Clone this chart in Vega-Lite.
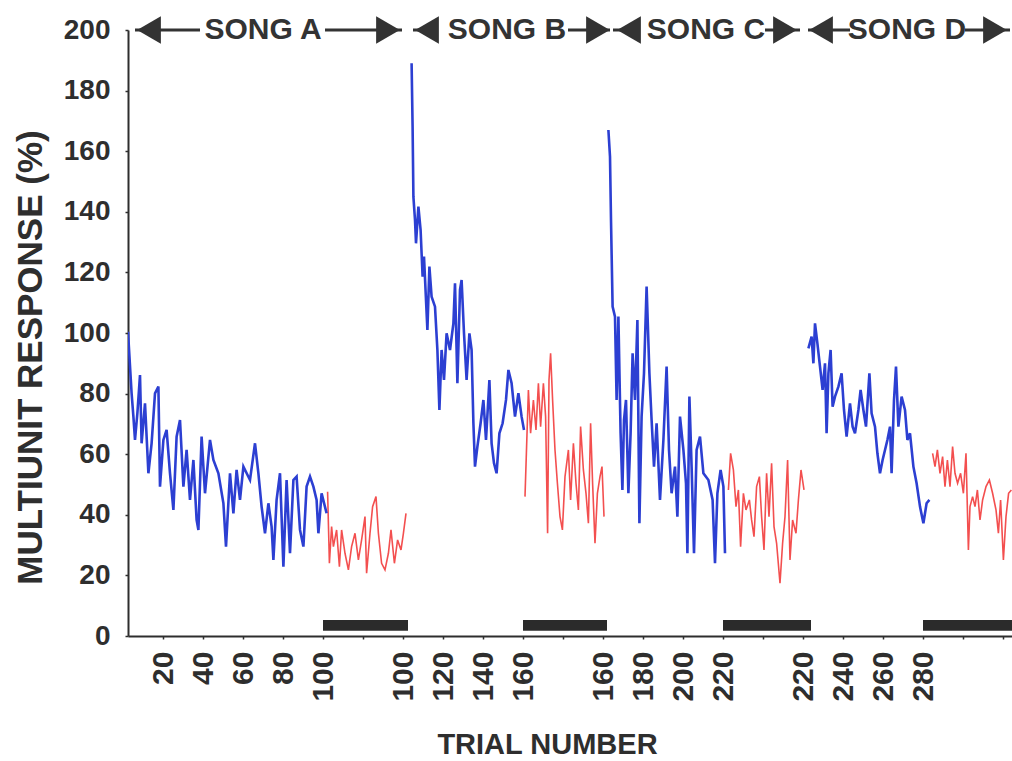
{
  "$schema": "https://vega.github.io/schema/vega-lite/v6.json",
  "width": 884,
  "height": 606,
  "autosize": {"type": "none"},
  "padding": {"left": 128, "top": 30, "right": 0, "bottom": 125},
  "background": "white",
  "config": {"view": {"stroke": null}, "font": "Liberation Sans"},
  "datasets": {
    "pts": [
      {"s":"A","c":"b","x":2.5,"y":100.4},{"s":"A","c":"b","x":4.3,"y":80.1},{"s":"A","c":"b","x":5.2,"y":72.4},{"s":"A","c":"b","x":6,"y":64.7},{"s":"A","c":"b","x":7.2,"y":73.6},{"s":"A","c":"b","x":8.5,"y":86.1},{"s":"A","c":"b","x":9.3,"y":63.6},{"s":"A","c":"b","x":11,"y":76.8},{"s":"A","c":"b","x":12.7,"y":53.7},{"s":"A","c":"b","x":14.3,"y":63.6},{"s":"A","c":"b","x":16,"y":80.1},{"s":"A","c":"b","x":17.7,"y":82.3},{"s":"A","c":"b","x":18.5,"y":49.3},{"s":"A","c":"b","x":20.2,"y":64.7},{"s":"A","c":"b","x":21.8,"y":68},{"s":"A","c":"b","x":23.5,"y":53.7},{"s":"A","c":"b","x":25.2,"y":41.6},{"s":"A","c":"b","x":26.8,"y":65.8},{"s":"A","c":"b","x":28.5,"y":71.3},{"s":"A","c":"b","x":30.2,"y":49.3},{"s":"A","c":"b","x":31.8,"y":61.4},{"s":"A","c":"b","x":33.5,"y":44.9},{"s":"A","c":"b","x":35.2,"y":58.1},{"s":"A","c":"b","x":36.8,"y":38.3},{"s":"A","c":"b","x":37.7,"y":35},{"s":"A","c":"b","x":39.3,"y":65.8},{"s":"A","c":"b","x":41,"y":47.1},{"s":"A","c":"b","x":43.5,"y":64.7},{"s":"A","c":"b","x":45.2,"y":58.1},{"s":"A","c":"b","x":47.7,"y":53.7},{"s":"A","c":"b","x":50.2,"y":43.8},{"s":"A","c":"b","x":51.5,"y":29.5},{"s":"A","c":"b","x":53.5,"y":53.7},{"s":"A","c":"b","x":55.2,"y":40.5},{"s":"A","c":"b","x":56.8,"y":54.8},{"s":"A","c":"b","x":58.5,"y":44.9},{"s":"A","c":"b","x":60.2,"y":55.9},{"s":"A","c":"b","x":63.5,"y":51.5},{"s":"A","c":"b","x":66,"y":63.6},{"s":"A","c":"b","x":67.7,"y":53.7},{"s":"A","c":"b","x":69.3,"y":42.7},{"s":"A","c":"b","x":71,"y":33.9},{"s":"A","c":"b","x":72.7,"y":43.8},{"s":"A","c":"b","x":74.3,"y":36.1},{"s":"A","c":"b","x":75.2,"y":25.1},{"s":"A","c":"b","x":76.8,"y":44.9},{"s":"A","c":"b","x":78.5,"y":53.7},{"s":"A","c":"b","x":80.2,"y":22.9},{"s":"A","c":"b","x":81.8,"y":51.5},{"s":"A","c":"b","x":83.5,"y":27.3},{"s":"A","c":"b","x":85.2,"y":51.5},{"s":"A","c":"b","x":86.8,"y":52.6},{"s":"A","c":"b","x":88.5,"y":35},{"s":"A","c":"b","x":90.2,"y":29.5},{"s":"A","c":"b","x":91.8,"y":49.3},{"s":"A","c":"b","x":93.5,"y":52.6},{"s":"A","c":"b","x":95.2,"y":49.3},{"s":"A","c":"b","x":96.8,"y":44.9},{"s":"A","c":"b","x":97.7,"y":33.9},{"s":"A","c":"b","x":99.3,"y":47.1},{"s":"A","c":"b","x":101.8,"y":40.5},
      {"s":"Ar","c":"r","x":102.3,"y":47.6},{"s":"Ar","c":"r","x":103.2,"y":24},{"s":"Ar","c":"r","x":104.3,"y":36.1},{"s":"Ar","c":"r","x":105.2,"y":29.5},{"s":"Ar","c":"r","x":106.8,"y":35},{"s":"Ar","c":"r","x":108.2,"y":22.9},{"s":"Ar","c":"r","x":109.3,"y":35},{"s":"Ar","c":"r","x":111,"y":27.3},{"s":"Ar","c":"r","x":112.7,"y":21.8},{"s":"Ar","c":"r","x":114.3,"y":29.5},{"s":"Ar","c":"r","x":116,"y":33.9},{"s":"Ar","c":"r","x":117.7,"y":25.1},{"s":"Ar","c":"r","x":119.3,"y":31.7},{"s":"Ar","c":"r","x":121,"y":39.4},{"s":"Ar","c":"r","x":121.8,"y":20.7},{"s":"Ar","c":"r","x":123.5,"y":33.9},{"s":"Ar","c":"r","x":124.8,"y":42.7},{"s":"Ar","c":"r","x":126.5,"y":46},{"s":"Ar","c":"r","x":127.7,"y":33.9},{"s":"Ar","c":"r","x":129.3,"y":24},{"s":"Ar","c":"r","x":131,"y":21.8},{"s":"Ar","c":"r","x":132.7,"y":27.3},{"s":"Ar","c":"r","x":134,"y":35},{"s":"Ar","c":"r","x":135.7,"y":24},{"s":"Ar","c":"r","x":137.3,"y":31.7},{"s":"Ar","c":"r","x":139,"y":28.4},{"s":"Ar","c":"r","x":140.2,"y":33.9},{"s":"Ar","c":"r","x":141.5,"y":40.5},
      {"s":"B","c":"b","x":144.3,"y":189},{"s":"B","c":"b","x":144.8,"y":168},{"s":"B","c":"b","x":145.2,"y":145},{"s":"B","c":"b","x":146,"y":137.3},{"s":"B","c":"b","x":146.5,"y":129.6},{"s":"B","c":"b","x":147.7,"y":141.7},{"s":"B","c":"b","x":148.8,"y":134},{"s":"B","c":"b","x":149.8,"y":118.6},{"s":"B","c":"b","x":150.5,"y":125.2},{"s":"B","c":"b","x":151.5,"y":110.9},{"s":"B","c":"b","x":152.2,"y":101},{"s":"B","c":"b","x":153.2,"y":121.9},{"s":"B","c":"b","x":154.3,"y":112},{"s":"B","c":"b","x":156,"y":108.7},{"s":"B","c":"b","x":157.2,"y":94.4},{"s":"B","c":"b","x":158.2,"y":74.6},{"s":"B","c":"b","x":159.3,"y":94.4},{"s":"B","c":"b","x":160.5,"y":84.5},{"s":"B","c":"b","x":161.8,"y":99.9},{"s":"B","c":"b","x":163.5,"y":94.4},{"s":"B","c":"b","x":165.2,"y":103.2},{"s":"B","c":"b","x":166,"y":116.4},{"s":"B","c":"b","x":167.2,"y":83.4},{"s":"B","c":"b","x":168.5,"y":114.2},{"s":"B","c":"b","x":169.3,"y":117.5},{"s":"B","c":"b","x":170.5,"y":99.9},{"s":"B","c":"b","x":171.8,"y":84.5},{"s":"B","c":"b","x":173.2,"y":99.9},{"s":"B","c":"b","x":174.3,"y":94.4},{"s":"B","c":"b","x":175.2,"y":70.2},{"s":"B","c":"b","x":176,"y":55.9},{"s":"B","c":"b","x":177.2,"y":62.5},{"s":"B","c":"b","x":178.8,"y":70.2},{"s":"B","c":"b","x":180.2,"y":77.9},{"s":"B","c":"b","x":181.5,"y":64.7},{"s":"B","c":"b","x":183.2,"y":84.5},{"s":"B","c":"b","x":184.3,"y":63.6},{"s":"B","c":"b","x":185.5,"y":57},{"s":"B","c":"b","x":186.8,"y":53.7},{"s":"B","c":"b","x":188.2,"y":66.9},{"s":"B","c":"b","x":189.8,"y":70.2},{"s":"B","c":"b","x":191.5,"y":77.9},{"s":"B","c":"b","x":192.7,"y":87.8},{"s":"B","c":"b","x":194.3,"y":83.4},{"s":"B","c":"b","x":196,"y":72.4},{"s":"B","c":"b","x":197.7,"y":80.1},{"s":"B","c":"b","x":199.3,"y":72.4},{"s":"B","c":"b","x":200.5,"y":68},
      {"s":"Br","c":"r","x":201,"y":46},{"s":"Br","c":"r","x":202.7,"y":81.2},{"s":"Br","c":"r","x":203.8,"y":66.9},{"s":"Br","c":"r","x":205.2,"y":77.9},{"s":"Br","c":"r","x":206.5,"y":68},{"s":"Br","c":"r","x":207.7,"y":83.4},{"s":"Br","c":"r","x":208.8,"y":69.1},{"s":"Br","c":"r","x":210.2,"y":83.4},{"s":"Br","c":"r","x":211.3,"y":72.4},{"s":"Br","c":"r","x":212.3,"y":33.9},{"s":"Br","c":"r","x":213,"y":84.5},{"s":"Br","c":"r","x":213.8,"y":93.3},{"s":"Br","c":"r","x":214.8,"y":77.9},{"s":"Br","c":"r","x":216,"y":61.4},{"s":"Br","c":"r","x":217.2,"y":50.4},{"s":"Br","c":"r","x":218.5,"y":39.4},{"s":"Br","c":"r","x":219.7,"y":35},{"s":"Br","c":"r","x":221,"y":52.6},{"s":"Br","c":"r","x":222.7,"y":61.4},{"s":"Br","c":"r","x":223.8,"y":44.9},{"s":"Br","c":"r","x":225.2,"y":63.6},{"s":"Br","c":"r","x":226.5,"y":50.4},{"s":"Br","c":"r","x":227.7,"y":41.6},{"s":"Br","c":"r","x":228.8,"y":69.1},{"s":"Br","c":"r","x":230.2,"y":54.8},{"s":"Br","c":"r","x":231.5,"y":47.1},{"s":"Br","c":"r","x":232.7,"y":37.2},{"s":"Br","c":"r","x":233.8,"y":70.2},{"s":"Br","c":"r","x":234.8,"y":50.4},{"s":"Br","c":"r","x":236,"y":30.6},{"s":"Br","c":"r","x":237.2,"y":47.1},{"s":"Br","c":"r","x":238.5,"y":52.6},{"s":"Br","c":"r","x":239.5,"y":55.9},{"s":"Br","c":"r","x":240.5,"y":39.4},
      {"s":"C","c":"b","x":242.7,"y":167},{"s":"C","c":"b","x":243.5,"y":158.2},{"s":"C","c":"b","x":244,"y":137.3},{"s":"C","c":"b","x":244.8,"y":108.7},{"s":"C","c":"b","x":246,"y":105.4},{"s":"C","c":"b","x":246.8,"y":77.9},{"s":"C","c":"b","x":247.7,"y":105.4},{"s":"C","c":"b","x":248.8,"y":66.9},{"s":"C","c":"b","x":249.7,"y":48.2},{"s":"C","c":"b","x":250.5,"y":71.3},{"s":"C","c":"b","x":251.5,"y":77.9},{"s":"C","c":"b","x":252.7,"y":47.1},{"s":"C","c":"b","x":253.8,"y":66.9},{"s":"C","c":"b","x":254.8,"y":93.3},{"s":"C","c":"b","x":256,"y":77.9},{"s":"C","c":"b","x":257.2,"y":104.3},{"s":"C","c":"b","x":258.2,"y":37.2},{"s":"C","c":"b","x":259.3,"y":72.4},{"s":"C","c":"b","x":260.5,"y":86.7},{"s":"C","c":"b","x":261.8,"y":115.3},{"s":"C","c":"b","x":263.2,"y":86.7},{"s":"C","c":"b","x":264.3,"y":71.3},{"s":"C","c":"b","x":265.5,"y":55.9},{"s":"C","c":"b","x":266.8,"y":70.2},{"s":"C","c":"b","x":268.5,"y":44.9},{"s":"C","c":"b","x":270.2,"y":64.7},{"s":"C","c":"b","x":271.8,"y":88.9},{"s":"C","c":"b","x":273,"y":61.4},{"s":"C","c":"b","x":274.3,"y":47.1},{"s":"C","c":"b","x":276,"y":55.9},{"s":"C","c":"b","x":277.2,"y":39.4},{"s":"C","c":"b","x":278.5,"y":72.4},{"s":"C","c":"b","x":280.2,"y":61.4},{"s":"C","c":"b","x":281.5,"y":50.4},{"s":"C","c":"b","x":282.2,"y":27.3},{"s":"C","c":"b","x":283.2,"y":79},{"s":"C","c":"b","x":284.3,"y":55.9},{"s":"C","c":"b","x":285.5,"y":27.3},{"s":"C","c":"b","x":286.8,"y":61.4},{"s":"C","c":"b","x":288.5,"y":65.8},{"s":"C","c":"b","x":290.2,"y":53.7},{"s":"C","c":"b","x":292.7,"y":51.5},{"s":"C","c":"b","x":294.8,"y":44.9},{"s":"C","c":"b","x":296,"y":24},{"s":"C","c":"b","x":297.2,"y":47.1},{"s":"C","c":"b","x":298.8,"y":54.8},{"s":"C","c":"b","x":300.2,"y":49.3},{"s":"C","c":"b","x":301,"y":27.3},
      {"s":"Cr","c":"r","x":302.7,"y":48.2},{"s":"Cr","c":"r","x":303.8,"y":60.3},{"s":"Cr","c":"r","x":305.2,"y":54.8},{"s":"Cr","c":"r","x":306.5,"y":42.7},{"s":"Cr","c":"r","x":307.7,"y":48.2},{"s":"Cr","c":"r","x":308.8,"y":29.5},{"s":"Cr","c":"r","x":310.2,"y":47.1},{"s":"Cr","c":"r","x":311.5,"y":41.6},{"s":"Cr","c":"r","x":313.2,"y":44.9},{"s":"Cr","c":"r","x":314.3,"y":38.3},{"s":"Cr","c":"r","x":315.5,"y":32.8},{"s":"Cr","c":"r","x":316.8,"y":49.3},{"s":"Cr","c":"r","x":318.2,"y":52.6},{"s":"Cr","c":"r","x":319.3,"y":39.4},{"s":"Cr","c":"r","x":320.5,"y":28.4},{"s":"Cr","c":"r","x":321.8,"y":53.7},{"s":"Cr","c":"r","x":323,"y":39.4},{"s":"Cr","c":"r","x":324.3,"y":57},{"s":"Cr","c":"r","x":325.5,"y":36.1},{"s":"Cr","c":"r","x":326.8,"y":30.6},{"s":"Cr","c":"r","x":328.5,"y":17.4},{"s":"Cr","c":"r","x":329.8,"y":30.6},{"s":"Cr","c":"r","x":331,"y":39.4},{"s":"Cr","c":"r","x":332.3,"y":58.1},{"s":"Cr","c":"r","x":333.5,"y":25.1},{"s":"Cr","c":"r","x":334.8,"y":38.3},{"s":"Cr","c":"r","x":336.5,"y":33.9},{"s":"Cr","c":"r","x":337.7,"y":44.9},{"s":"Cr","c":"r","x":339,"y":54.8},{"s":"Cr","c":"r","x":340.5,"y":48.2},
      {"s":"D","c":"b","x":342.7,"y":94.9},{"s":"D","c":"b","x":344.3,"y":98.8},{"s":"D","c":"b","x":345.2,"y":90},{"s":"D","c":"b","x":346,"y":103.2},{"s":"D","c":"b","x":347.2,"y":96.6},{"s":"D","c":"b","x":348.5,"y":88.9},{"s":"D","c":"b","x":349.8,"y":81.2},{"s":"D","c":"b","x":351,"y":90},{"s":"D","c":"b","x":351.8,"y":66.9},{"s":"D","c":"b","x":352.7,"y":86.7},{"s":"D","c":"b","x":353.8,"y":94.4},{"s":"D","c":"b","x":354.8,"y":75.7},{"s":"D","c":"b","x":356,"y":79},{"s":"D","c":"b","x":357.7,"y":82.3},{"s":"D","c":"b","x":359.3,"y":86.7},{"s":"D","c":"b","x":360.5,"y":74.6},{"s":"D","c":"b","x":361.8,"y":65.8},{"s":"D","c":"b","x":363.5,"y":76.8},{"s":"D","c":"b","x":364.8,"y":69.1},{"s":"D","c":"b","x":366,"y":66.9},{"s":"D","c":"b","x":367.7,"y":74.6},{"s":"D","c":"b","x":368.8,"y":81.2},{"s":"D","c":"b","x":370.2,"y":74.6},{"s":"D","c":"b","x":371.5,"y":69.1},{"s":"D","c":"b","x":373.2,"y":86.7},{"s":"D","c":"b","x":374.3,"y":73.5},{"s":"D","c":"b","x":376,"y":69.1},{"s":"D","c":"b","x":377.2,"y":60.3},{"s":"D","c":"b","x":378.5,"y":53.7},{"s":"D","c":"b","x":379.8,"y":58.1},{"s":"D","c":"b","x":381,"y":61.4},{"s":"D","c":"b","x":382.2,"y":64.7},{"s":"D","c":"b","x":383.5,"y":69.1},{"s":"D","c":"b","x":384.3,"y":53.7},{"s":"D","c":"b","x":385.5,"y":77.9},{"s":"D","c":"b","x":386.5,"y":88.9},{"s":"D","c":"b","x":387.7,"y":69.1},{"s":"D","c":"b","x":389.3,"y":79},{"s":"D","c":"b","x":391,"y":74.6},{"s":"D","c":"b","x":392.2,"y":64.7},{"s":"D","c":"b","x":393.5,"y":66.9},{"s":"D","c":"b","x":395.2,"y":55.9},{"s":"D","c":"b","x":396.8,"y":50.4},{"s":"D","c":"b","x":398.5,"y":42.7},{"s":"D","c":"b","x":400.2,"y":37.2},{"s":"D","c":"b","x":401.8,"y":43.8},{"s":"D","c":"b","x":403.2,"y":44.9},
      {"s":"Dr","c":"r","x":404.8,"y":60.3},{"s":"Dr","c":"r","x":406,"y":55.9},{"s":"Dr","c":"r","x":407.2,"y":61.4},{"s":"Dr","c":"r","x":408.5,"y":53.7},{"s":"Dr","c":"r","x":409.8,"y":59.2},{"s":"Dr","c":"r","x":411,"y":49.3},{"s":"Dr","c":"r","x":412.2,"y":58.1},{"s":"Dr","c":"r","x":413.5,"y":49.3},{"s":"Dr","c":"r","x":414.8,"y":62.5},{"s":"Dr","c":"r","x":416,"y":53.7},{"s":"Dr","c":"r","x":417.3,"y":50.4},{"s":"Dr","c":"r","x":418.8,"y":53.7},{"s":"Dr","c":"r","x":420.2,"y":47.1},{"s":"Dr","c":"r","x":421.5,"y":60.3},{"s":"Dr","c":"r","x":422.7,"y":28.4},{"s":"Dr","c":"r","x":423.5,"y":42.7},{"s":"Dr","c":"r","x":424.8,"y":46},{"s":"Dr","c":"r","x":426,"y":42.7},{"s":"Dr","c":"r","x":427.2,"y":48.2},{"s":"Dr","c":"r","x":428.5,"y":38.3},{"s":"Dr","c":"r","x":429.8,"y":44.9},{"s":"Dr","c":"r","x":431.5,"y":49.3},{"s":"Dr","c":"r","x":433.2,"y":51.5},{"s":"Dr","c":"r","x":434.8,"y":47.1},{"s":"Dr","c":"r","x":436.5,"y":41.6},{"s":"Dr","c":"r","x":437.7,"y":33.9},{"s":"Dr","c":"r","x":438.8,"y":44.9},{"s":"Dr","c":"r","x":440.2,"y":25.1},{"s":"Dr","c":"r","x":441.5,"y":39.4},{"s":"Dr","c":"r","x":442.8,"y":47.1},{"s":"Dr","c":"r","x":444.2,"y":48.2}
    ],
    "bars": [{"x":100,"x2":142.5},{"x":200,"x2":242},{"x":300,"x2":344},{"x":400,"x2":444.5}],
    "arrowlines": [{"x":6,"x2":38.5},{"x":101,"x2":139.5},{"x":145,"x2":150},{"x":222.5,"x2":243.5},{"x":245,"x2":251},{"x":321,"x2":338.5},{"x":342.5,"x2":363.5},{"x":421,"x2":443.5}],
    "heads": [{"x":13,"d":"left"},{"x":132.5,"d":"right"},{"x":152,"d":"left"},{"x":237.5,"d":"right"},{"x":253,"d":"left"},{"x":331,"d":"right"},{"x":349,"d":"left"},{"x":436,"d":"right"}],
    "songs": [{"x":70,"t":"SONG A"},{"x":192,"t":"SONG B"},{"x":291.5,"t":"SONG C"},{"x":392,"t":"SONG D"}]
  },
  "encoding": {
    "x": {
      "field": "x", "type": "quantitative",
      "scale": {"domain": [2.5, 444.5], "nice": false, "zero": false},
      "axis": {
        "title": "TRIAL NUMBER",
        "values": [20,40,60,80,100,120,140,160,180,200,220,240,260,280,300,320,340,360,380,400,420,440],
        "labelExpr": "datum.value <= 100 ? format(datum.value, 'd') : datum.value == 140 ? '100' : datum.value == 160 ? '120' : datum.value == 180 ? '140' : datum.value == 200 ? '160' : datum.value == 240 ? '160' : datum.value == 260 ? '180' : datum.value == 280 ? '200' : datum.value == 300 ? '220' : datum.value == 340 ? '220' : datum.value == 360 ? '240' : datum.value == 380 ? '260' : datum.value == 400 ? '280' : ''",
        "labelAngle": -90, "labelAlign": "right", "labelBaseline": "middle",
        "labelFontSize": 30, "labelFontWeight": "bold", "labelColor": "#2e2e2e", "labelPadding": 12,
        "labelOverlap": false, "labelFlush": false,
        "domainColor": "#2e2e2e", "domainWidth": 2, "tickColor": "#2e2e2e", "tickWidth": 1.5, "tickSize": 3,
        "grid": false,
        "titleFontSize": 29, "titleFontWeight": "bold", "titleColor": "#2e2e2e",
        "titleX": 419, "titleY": 108, "titleAlign": "center", "titleBaseline": "middle"
      }
    }
  },
  "layer": [
    {
      "data": {"name": "bars"},
      "mark": {"type": "rect", "color": "#2b2b2b"},
      "encoding": {"x2": {"field": "x2"}, "y": {"datum": 1.7, "type": "quantitative"}, "y2": {"datum": 5.3}}
    },
    {
      "data": {"name": "pts"},
      "transform": [{"filter": "datum.c == 'r'"}],
      "mark": {"type": "line", "color": "#f23c3c", "strokeWidth": 1.6, "opacity": 0.9, "clip": true},
      "encoding": {"y": {"field": "y", "type": "quantitative"}, "detail": {"field": "s"}}
    },
    {
      "data": {"name": "pts"},
      "transform": [{"filter": "datum.c == 'b'"}],
      "mark": {"type": "line", "color": "#2c3fd2", "strokeWidth": 2.6, "clip": true},
      "encoding": {
        "detail": {"field": "s"},
        "y": {
          "field": "y", "type": "quantitative",
          "scale": {"domain": [0, 200], "nice": false, "zero": true},
          "axis": {
            "title": "MULTIUNIT RESPONSE (%)",
            "values": [0,20,40,60,80,100,120,140,160,180,200],
            "labelFontSize": 28, "labelFontWeight": "bold", "labelColor": "#2e2e2e", "labelPadding": 15,
            "labelOverlap": false, "labelFlush": false,
            "domainColor": "#2e2e2e", "domainWidth": 2, "tickColor": "#2e2e2e", "tickWidth": 1.5, "tickSize": 3,
            "grid": false,
            "titleFontSize": 35, "titleFontWeight": "bold", "titleColor": "#2e2e2e",
            "titleX": -98, "titleY": 327, "titleAngle": -90, "titleAlign": "center", "titleBaseline": "middle"
          }
        }
      }
    },
    {
      "data": {"name": "arrowlines"},
      "mark": {"type": "rule", "color": "#333333", "strokeWidth": 3},
      "encoding": {"x2": {"field": "x2"}, "y": {"datum": 200, "type": "quantitative"}}
    },
    {
      "data": {"name": "heads"},
      "mark": {"type": "point", "filled": true, "color": "#333333", "opacity": 1, "size": 750},
      "encoding": {
        "y": {"datum": 200, "type": "quantitative"},
        "shape": {"field": "d", "type": "nominal", "scale": {"domain": ["left", "right"], "range": ["triangle-left", "triangle-right"]}, "legend": null}
      }
    },
    {
      "data": {"name": "songs"},
      "mark": {"type": "text", "fontSize": 30, "fontWeight": "bold", "color": "#333333", "align": "center", "baseline": "middle"},
      "encoding": {"y": {"datum": 200, "type": "quantitative"}, "text": {"field": "t"}}
    }
  ]
}
